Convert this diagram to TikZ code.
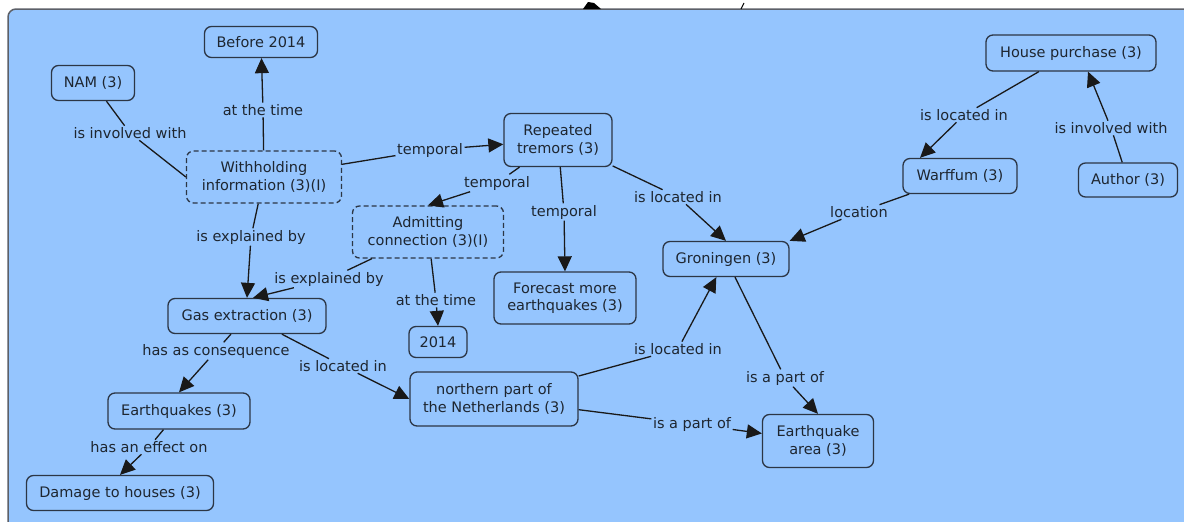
\documentclass[tikz,border=0pt]{standalone}
\usepackage{fontspec}
\setmainfont{DejaVu Sans}
\usepackage{xcolor}
\usepackage{tikz}
\usetikzlibrary{arrows.meta}
\definecolor{bg}{HTML}{95C5FE}
\definecolor{edge}{HTML}{2C3645}
\definecolor{frame}{HTML}{5C6068}
\definecolor{ink}{HTML}{1E2630}
\tikzset{
  concept/.style={draw=edge, line width=1.3pt, rounded corners=7pt, align=center,
    inner sep=0pt, text=ink, font=\fontsize{14.5}{17.5}\selectfont},
  hidden/.style={concept, dashed, dash pattern=on 5pt off 3pt},
  link/.style={text=ink, inner sep=1.5pt, font=\fontsize{14.5}{17.5}\selectfont},
  rel/.style={draw=black!90, line width=1.3pt},
  relto/.style={rel, -{Triangle[length=15pt,width=14pt]}},
}

\begin{document}
\begin{tikzpicture}[x=1pt, y=-1pt]
  \clip (0,0) rectangle (1184,522);
  \draw[frame, fill=bg, line width=1.5pt, rounded corners=8pt] (8,9) rectangle (1200,540);
  % bits of the page above
  \fill[black] (583,9) -- (588,2) -- (594,3) -- (601,9) -- cycle;
  \draw[black, line width=1pt] (741,9) -- (744,3);

  % concepts
  \node[concept, minimum width=113pt, minimum height=31pt] (before) at (261,42) {Before 2014};
  \node[concept, minimum width=83pt, minimum height=35pt] (nam) at (93,83) {NAM (3)};
  \node[hidden, minimum width=155pt, minimum height=52pt] (withhold) at (264,177) {Withholding\\information (3)(I)};
  \node[concept, minimum width=108pt, minimum height=53pt] (tremors) at (558,140) {Repeated\\tremors (3)};
  \node[hidden, minimum width=151pt, minimum height=52pt] (admit) at (428,232) {Admitting\\connection (3)(I)};
  \node[concept, minimum width=142pt, minimum height=52pt] (forecast) at (565,298) {Forecast more\\earthquakes (3)};
  \node[concept, minimum width=58pt, minimum height=31pt] (y2014) at (438,342) {2014};
  \node[concept, minimum width=126pt, minimum height=35pt] (groningen) at (726,259) {Groningen (3)};
  \node[concept, minimum width=158pt, minimum height=35pt] (gas) at (247,316) {Gas extraction (3)};
  \node[concept, minimum width=142pt, minimum height=36pt] (quakes) at (179,411) {Earthquakes (3)};
  \node[concept, minimum width=187pt, minimum height=35pt] (damage) at (120,493) {Damage to houses (3)};
  \node[concept, minimum width=168pt, minimum height=54pt] (north) at (494,399) {northern part of\\the Netherlands (3)};
  \node[concept, minimum width=111pt, minimum height=53pt] (area) at (818,441) {Earthquake\\area (3)};
  \node[concept, minimum width=170pt, minimum height=36pt] (house) at (1071,53) {House purchase (3)};
  \node[concept, minimum width=114pt, minimum height=35pt] (warffum) at (960,176) {Warffum (3)};
  \node[concept, minimum width=99pt, minimum height=34pt] (author) at (1128,180) {Author (3)};

  % linking phrases
  \node[link] (l1) at (130,133) {is involved with};
  \node[link] (l2) at (263,110) {at the time};
  \node[link] (l3) at (430,150) {temporal};
  \node[link] (l4) at (497,183) {temporal};
  \node[link] (l5) at (564,212) {temporal};
  \node[link] (l6) at (678,197) {is located in};
  \node[link] (l7) at (251,237) {is explained by};
  \node[link] (l8) at (329,279) {is explained by};
  \node[link] (l9) at (436,300) {at the time};
  \node[link] (l10) at (216,351) {has as consequence};
  \node[link] (l11) at (343,366) {is located in};
  \node[link] (l12) at (149,447) {has an effect on};
  \node[link] (l13) at (678,349) {is located in};
  \node[link] (l14) at (692,424) {is a part of};
  \node[link] (l15) at (785,378) {is a part of};
  \node[link] (l16) at (859,212) {location};
  \node[link] (l17) at (964,115) {is located in};
  \node[link] (l18) at (1111,128) {is involved with};

  % propositions
  \draw[rel] (nam) -- (l1);  \draw[rel] (l1) -- (withhold.west);
  \draw[rel] (withhold) -- (l2);  \draw[relto] (l2) -- (before);
  \draw[rel] (withhold) -- (l3);  \draw[relto] (l3) -- (tremors);
  \draw[rel] (tremors) -- (l4);  \draw[relto] (l4) -- (admit.north);
  \draw[rel] (tremors) -- (l5);  \draw[relto] (l5) -- (forecast.north);
  \draw[rel] (tremors) -- (l6);  \draw[relto] (l6) -- (groningen.north);
  \draw[rel] (withhold) -- (l7);  \draw[relto] (l7) -- (gas.north);
  \draw[rel] (admit) -- (l8);  \draw[relto] (l8) -- ([xshift=6pt]gas.north);
  \draw[rel] (admit) -- (l9);  \draw[relto] (l9) -- (y2014.north);
  \draw[rel] (gas) -- (l10);  \draw[relto] (l10) -- (quakes.north);
  \draw[rel] (gas) -- (l11);  \draw[relto] (l11) -- (north.west);
  \draw[rel] (quakes) -- (l12);  \draw[relto] (l12) -- (damage.north);
  \draw[rel] (north) -- (l13);  \draw[relto] (l13) -- (groningen);
  \draw[rel] (north) -- (l14);  \draw[relto] (l14) -- (area);
  \draw[rel] (groningen) -- (l15);  \draw[relto] (l15) -- (area.north);
  \draw[rel] (warffum) -- (l16);  \draw[relto] (l16) -- (groningen.north east);
  \draw[rel] (house) -- (l17);  \draw[relto] (l17) -- ([xshift=-40pt]warffum.north);
  \draw[rel] (author) -- (l18);  \draw[relto] (l18) -- ([xshift=17pt]house.south);
\end{tikzpicture}
\end{document}
